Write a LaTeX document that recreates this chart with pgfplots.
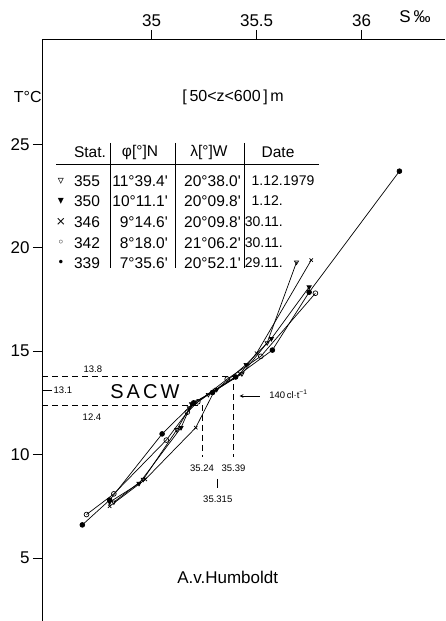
\documentclass[border=0pt]{standalone}
\usepackage{pgfplots}
\pgfplotsset{compat=1.18}
\usepackage{fontspec}
\setmainfont{Liberation Sans}
\newfontfamily\sym{DejaVu Sans}
\newcommand{\q}{\textquotesingle}
\begin{document}
\begin{tikzpicture}
\begin{axis}[
 scale only axis, width=403pt, height=582pt,
 xmin=34.478, xmax=36.397, ymin=1.954, ymax=30.09,
 axis x line=top, axis y line=left,
 axis line style={-, line width=0.9pt},
 xtick={35,35.5,36}, ytick={5,10,15,20,25},
 tick align=outside, major tick length=9pt,
 tick style={line width=0.9pt, black},
 ticklabel style={font=\fontsize{17}{20}\selectfont},
 /pgf/number format/assume math mode=true,
 clip=false,
 every axis plot/.append style={line width=0.7pt, black, mark size=2.4pt},
]
% 339 filled circles
\addplot[mark=*] coordinates {(36.18,23.7) (35.75,17.85) (35.575,15.05) (35.40,13.75) (35.29,13.0) (35.20,12.5) (35.05,11.0) (34.80,7.8) (34.67,6.6)};
% 342 open circles
\addplot[mark=o, mark options={fill=white}] coordinates {(35.78,17.8) (35.52,14.75) (35.36,13.65) (35.22,12.55) (35.17,12.05) (35.07,10.7) (34.82,8.1) (34.69,7.1)};
% 346 crosses
\addplot[mark=x] coordinates {(35.76,19.4) (35.50,14.9) (35.42,13.9) (35.30,13.1) (35.21,11.3) (34.97,8.8) (34.80,7.5)};
% 350 filled triangles
\addplot[mark=triangle*, mark options={rotate=180}] coordinates {(35.75,18.1) (35.57,15.6) (35.45,14.35) (35.31,13.15) (35.19,12.45) (35.14,11.3) (34.94,8.6) (34.80,7.7)};
% 355 open triangles
\addplot[mark=triangle, mark options={rotate=180, fill=white}] coordinates {(35.69,19.3) (35.55,15.4) (35.43,13.9) (35.27,12.9) (35.18,12.25) (35.12,11.2) (34.96,8.8) (34.82,7.7)};
% SACW construction
\draw[dash pattern=on 6pt off 4pt, line width=0.7pt] (axis cs:34.478,13.8) -- (axis cs:35.39,13.8) -- (axis cs:35.39,9.88);
\draw[dash pattern=on 6pt off 4pt, line width=0.7pt] (axis cs:34.478,12.4) -- (axis cs:35.24,12.4) -- (axis cs:35.24,9.88);
\draw[line width=0.7pt] (axis cs:34.478,13.1) -- (axis cs:34.526,13.1);
\node[anchor=west, inner sep=1pt, font=\fontsize{9.5}{11}\selectfont] at (axis cs:34.528,13.1) {13.1};
\node[font=\fontsize{9.5}{11}\selectfont] at (axis cs:34.7205,14.14) {13.8};
\node[font=\fontsize{9.5}{11}\selectfont] at (axis cs:34.716,11.82) {12.4};
\node[font=\fontsize{9.5}{11}\selectfont] at (axis cs:35.24,9.35) {35.24};
\node[font=\fontsize{9.5}{11}\selectfont] at (axis cs:35.39,9.35) {35.39};
\draw[line width=0.7pt] (axis cs:35.315,8.82) -- (axis cs:35.315,8.38);
\node[font=\fontsize{9.5}{11}\selectfont] at (axis cs:35.315,7.85) {35.315};
\node[font=\fontsize{20}{24}\selectfont] at (axis cs:34.968,13.05) {S\hspace{3pt}A\hspace{3pt}C\hspace{3pt}W};
\draw[->, >=stealth, line width=0.7pt] (axis cs:35.514,12.83) -- (axis cs:35.419,12.83);
\node[anchor=west, inner sep=1pt, font=\fontsize{9.5}{11}\selectfont] at (axis cs:35.555,12.93) {140\,cl·t\textsuperscript{−1}};
% titles
\node[font=\fontsize{16}{19}\selectfont] at (axis cs:35.388,27.29) {[\,50<z<600\,]\,m};
\node[font=\fontsize{16}{19}\selectfont] at (axis cs:34.41,27.29) {T°C};
\node[font=\fontsize{17}{20}\selectfont] at (axis cs:36.254,31.15) {S\,‰};
\node[font=\fontsize{17}{20}\selectfont] at (axis cs:35.362,4.08) {A.v.Humboldt};
\coordinate (NW) at (rel axis cs:0,1);
\end{axis}
\begin{scope}[shift={(NW)}, xshift=-42pt, yshift=39pt, x=1pt, y=-1pt, font=\fontsize{15.5}{19}\selectfont]
% table header
\node at (90,152) {Stat.};
\node at (140,152) {φ[°]N};
\node at (209,152) {λ[°]W};
\node at (278,152) {Date};
\draw[line width=0.8pt] (56,164) -- (319,164);
\foreach \xx in {110,175,244} \draw[line width=0.8pt] (\xx,143) -- (\xx,268);
% rows
\foreach \yy/\mk/\st/\ph/\la/\da in {181/▿/355/11°39.4\q/20°38.0\q/1.12.,201/▾/350/10°11.1\q/20°09.8\q/1.12.,222/×/346/9°14.6\q/20°09.8\q/30.11.,243/◦/342/8°18.0\q/21°06.2\q/30.11.,263/•/339/7°35.6\q/20°52.1\q/29.11.}{
 \node[font=\sym\fontsize{12}{14}\selectfont] at (61,\yy) {\mk};
 \node at (87,\yy) {\st};
 \node[anchor=east, inner sep=0pt] at (168,\yy) {\ph};
 \node[anchor=east, inner sep=0pt] at (241,\yy) {\la};
 \node[anchor=east, inner sep=0pt, font=\fontsize{14}{19}\selectfont] at (283,\yy) {\da};
}
\node[anchor=west, inner sep=0pt, font=\fontsize{14}{19}\selectfont] at (283,181) {1979};
\pgfresetboundingbox
\path[use as bounding box] (0,0) rectangle (445,621);
\end{scope}
\end{tikzpicture}
\end{document}
